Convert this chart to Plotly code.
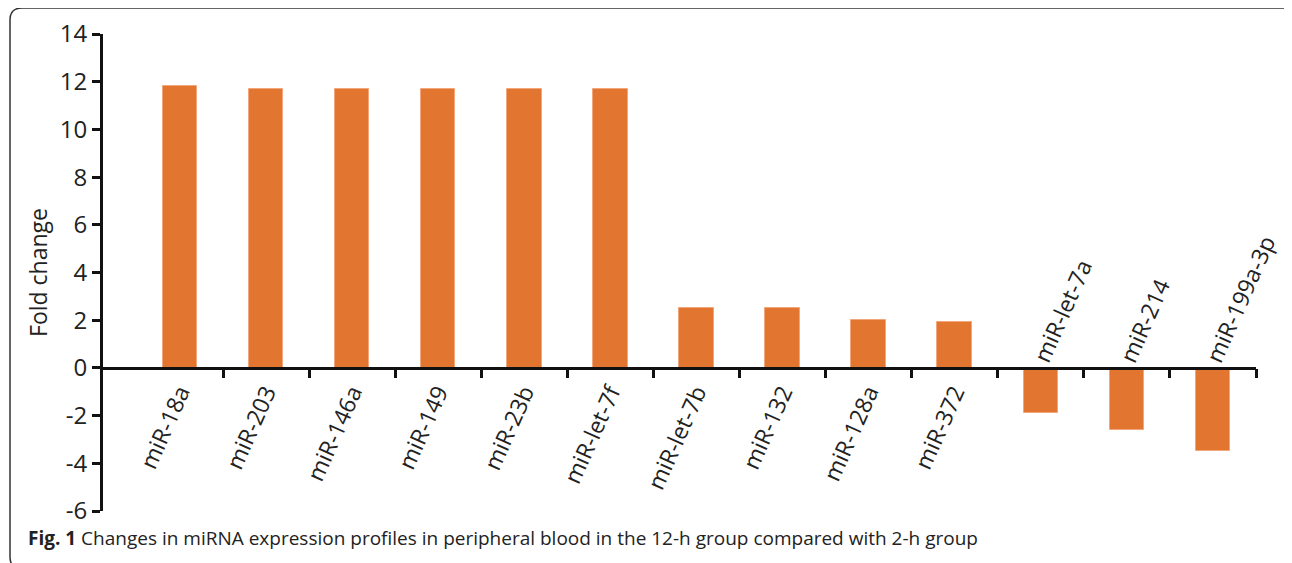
import plotly.graph_objects as go

categories = ["miR-18a", "miR-203", "miR-146a", "miR-149", "miR-23b", "miR-let-7f",
              "miR-let-7b", "miR-132", "miR-128a", "miR-372",
              "miR-let-7a", "miR-214", "miR-199a-3p"]
fold_change = [11.82, 11.7, 11.7, 11.7, 11.7, 11.7, 2.51, 2.51, 2.01, 1.93, -1.89, -2.6, -3.48]
y_ticks = [-6, -4, -2, 0, 2, 4, 6, 8, 10, 12, 14]
y_tick_text = ["-6", "-4", "-2", "0", "2", "4", "6", "8", "10", "12", "14"]
caption_bold = "Fig. 1"
caption_text = " Changes in miRNA expression profiles in peripheral blood in the 12-h group compared with 2-h group"

FONT = "Open Sans"
BAR = "#E2752F"
TXT = "#222222"

n = len(categories)
pos = list(range(n))
below_labels = [c if v >= 0 else "" for c, v in zip(categories, fold_change)]

fig = go.Figure()
fig.add_trace(go.Bar(x=pos, y=fold_change, width=0.4,
                     marker=dict(color=BAR, line=dict(color="#F2A67A", width=1)),
                     xaxis="x", yaxis="y", showlegend=False, hoverinfo="skip"))
fig.add_trace(go.Scatter(x=[0], y=[0], mode="markers", marker=dict(opacity=0),
                         xaxis="x2", yaxis="y", showlegend=False, hoverinfo="skip"))

xr = [-0.894, n - 0.5]
y0pos = (0 - y_ticks[0]) / (y_ticks[-1] - y_ticks[0])

# page body has an 8px margin: figure is 1284x555 so it ends at the window edge
fig.update_layout(
    width=1284, height=555,
    margin=dict(l=95, r=36, t=26, b=52, autoexpand=False),
    paper_bgcolor="white", plot_bgcolor="white",
    font=dict(family=FONT, size=22, color=TXT),
    bargap=0,
    xaxis=dict(range=xr, tickmode="array", tickvals=pos, ticktext=below_labels,
               tickangle=-66, ticks="", ticklen=0,
               showline=True, linecolor="#111111", linewidth=3, automargin=False,
               anchor="free", position=y0pos, showgrid=False, zeroline=False,
               tickfont=dict(family=FONT, size=23, color=TXT)),
    xaxis2=dict(range=xr, overlaying="x", tickmode="array",
                tickvals=[p + 0.5 for p in pos], ticktext=["" for _ in pos],
                ticks="outside", ticklen=9, tickwidth=3, tickcolor="#111111",
                showline=False, anchor="free", position=y0pos, side="bottom",
                showgrid=False, zeroline=False, automargin=False),
    yaxis=dict(range=[y_ticks[0], y_ticks[-1]], tickmode="array", tickvals=y_ticks,
               ticktext=y_tick_text,
               ticks="outside", ticklen=8, tickwidth=3, tickcolor="#111111",
               showline=True, linecolor="#111111", linewidth=3, automargin=False,
               showgrid=False, zeroline=False,
               title=dict(text="Fold change", font=dict(family=FONT, size=23, color=TXT), standoff=6),
               tickfont=dict(family=FONT, size=24, color=TXT)),
)

for p, c, v in zip(pos, categories, fold_change):
    if v < 0:
        fig.add_annotation(x=p, y=0, xref="x", yref="y", text=c, showarrow=False,
                           textangle=-66, xanchor="left", yanchor="bottom",
                           xshift=-18, yshift=-2,
                           font=dict(family=FONT, size=23, color=TXT))

# window-pixel -> paper helpers
W, H = 1153.0, 477.0
def px(x):
    return (x - 103) / W
def py(y):
    return (511 - y) / H

fig.add_annotation(xref="paper", yref="paper", x=px(26), y=py(538),
                   xanchor="left", yanchor="middle", showarrow=False,
                   text="<b>" + caption_bold + "</b>" + caption_text,
                   font=dict(family=FONT, size=19, color=TXT))

# rounded frame (partly outside the visible area)
r = 12
x0, y0, x1, y1 = 10, 8, 1294, 569
path = (f"M {px(x0)},{py(y0 + r)} Q {px(x0)},{py(y0)} {px(x0 + r)},{py(y0)} "
        f"L {px(x1 - r)},{py(y0)} Q {px(x1)},{py(y0)} {px(x1)},{py(y0 + r)} "
        f"L {px(x1)},{py(y1 - r)} Q {px(x1)},{py(y1)} {px(x1 - r)},{py(y1)} "
        f"L {px(x0 + r)},{py(y1)} Q {px(x0)},{py(y1)} {px(x0)},{py(y1 - r)} Z")
fig.add_shape(type="path", xref="paper", yref="paper", path=path,
              line=dict(color="#333333", width=1.5), layer="above")

fig.write_html("out.html")
